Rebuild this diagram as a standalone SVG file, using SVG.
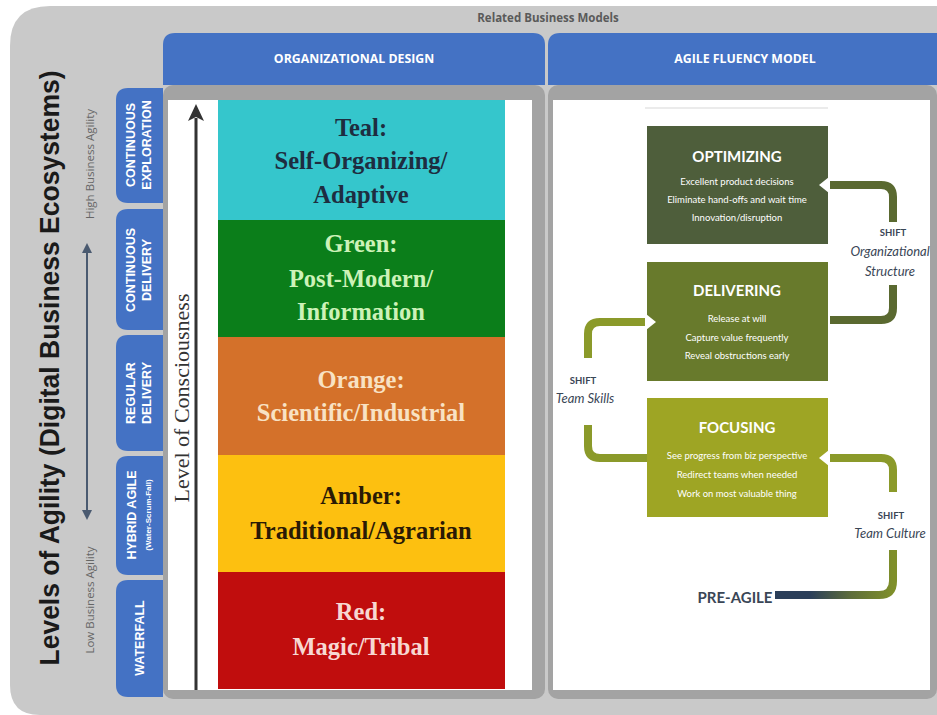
<svg xmlns="http://www.w3.org/2000/svg" width="937" height="715" viewBox="0 0 937 715">
<defs>
<style>
.hdr{font-family:"Open Sans","Liberation Sans",sans-serif;font-weight:bold;font-size:12.3px;fill:#fff;text-anchor:middle}
.tab{fill:#4472c4}
.tabt{font-family:"Liberation Sans",Arial,sans-serif;font-weight:bold;font-size:12.5px;fill:#fff;text-anchor:middle}
.lvl{font-family:"Liberation Serif","Times New Roman",serif;font-weight:bold;font-size:24.5px;text-anchor:middle}
.bt{font-family:"Lato","Open Sans",sans-serif;fill:#fff;text-anchor:middle}
.ttl{font-size:15px;font-weight:bold}
.ln{font-size:9.5px}
.shift{font-family:"Lato","Open Sans",sans-serif;fill:#3a4656;text-anchor:middle}
.con{fill:none;stroke-width:8}
.side{font-family:"Open Sans","Liberation Sans",sans-serif;font-size:11.5px;fill:#666}
</style>
<linearGradient id="gr" gradientUnits="userSpaceOnUse" x1="893" y1="0" x2="775" y2="0">
<stop offset="0" stop-color="#7f8f2a"/>
<stop offset="0.35" stop-color="#5e6e3a"/>
<stop offset="0.7" stop-color="#2b3f5a"/>
<stop offset="1" stop-color="#2b3f5a"/>
</linearGradient>
<marker id="ah" viewBox="0 0 10 10" refX="8" refY="5" markerWidth="5" markerHeight="5" orient="auto-start-reverse">
<path d="M0,0 L10,5 L0,10 z" fill="#4a5a70"/>
</marker>
</defs>
<rect width="937" height="715" fill="#fff"/>
<path d="M50,6 H937 V715 H40 Q10,715 10,685 V46 Q10,6 50,6 Z" fill="#c9c9c9"/>
<text x="548" y="22" font-family="'Open Sans','Liberation Sans',sans-serif" font-weight="bold" font-size="11.5" fill="#5a5a5a" text-anchor="middle">Related Business Models</text>

<g id="title">
<text transform="translate(59,368) rotate(-90)" font-family="'Liberation Sans',Arial,sans-serif" font-weight="bold" font-size="27" fill="#1a1a1a" text-anchor="middle" textLength="595" lengthAdjust="spacingAndGlyphs">Levels of Agility (Digital Business Ecosystems)</text>
<text class="side" transform="translate(94,164) rotate(-90)" text-anchor="middle">High Business Agility</text>
<text class="side" transform="translate(94,600) rotate(-90)" text-anchor="middle">Low Business Agility</text>
<line x1="87" y1="518" x2="87" y2="245" stroke="#4a5a70" stroke-width="2" marker-start="url(#ah)" marker-end="url(#ah)"/>
</g>

<g id="panel-left">
<rect x="163" y="85" width="382" height="614" rx="10" fill="#a3a3a3"/>
<rect x="168" y="100" width="364" height="590" fill="#fff"/>
<path d="M163,85 V45 Q163,33 175,33 H533 Q545,33 545,45 V85 Z" fill="#4472c4"/>
<text class="hdr" x="354" y="63">ORGANIZATIONAL DESIGN</text>
</g>
<g id="panel-right">
<rect x="548" y="85" width="389" height="614" rx="10" fill="#a3a3a3"/>
<rect x="553" y="100" width="377" height="590" fill="#fff"/>
<path d="M548,85 V45 Q548,33 560,33 H937 V85 Z" fill="#4472c4"/>
<text class="hdr" x="745" y="63">AGILE FLUENCY MODEL</text>
<line x1="645" y1="108" x2="828" y2="108" stroke="#e4e4e4" stroke-width="1.5"/>
</g>

<g id="tab-ce">
<path d="M163,88 V203 H128 Q116,203 116,191 V100 Q116,88 128,88 Z" class="tab"/>
<text class="tabt" transform="translate(135,145) rotate(-90)">CONTINUOUS</text>
<text class="tabt" transform="translate(151,145) rotate(-90)">EXPLORATION</text>
</g>
<g id="tab-cd">
<path d="M163,209 V330 H128 Q116,330 116,318 V221 Q116,209 128,209 Z" class="tab"/>
<text class="tabt" transform="translate(135,270) rotate(-90)">CONTINUOUS</text>
<text class="tabt" transform="translate(151,270) rotate(-90)">DELIVERY</text>
</g>
<g id="tab-rd">
<path d="M163,335 V451 H128 Q116,451 116,439 V347 Q116,335 128,335 Z" class="tab"/>
<text class="tabt" transform="translate(135,393) rotate(-90)">REGULAR</text>
<text class="tabt" transform="translate(151,393) rotate(-90)">DELIVERY</text>
</g>
<g id="tab-ha">
<path d="M163,456 V575 H128 Q116,575 116,563 V468 Q116,456 128,456 Z" class="tab"/>
<text class="tabt" transform="translate(136,515) rotate(-90)">HYBRID AGILE</text>
<text transform="translate(151,515) rotate(-90)" font-family="'Liberation Sans',Arial,sans-serif" font-weight="bold" font-size="8" fill="#fff" text-anchor="middle">(Water-Scrum-Fall)</text>
</g>
<g id="tab-wf">
<path d="M163,580 V697 H128 Q116,697 116,685 V592 Q116,580 128,580 Z" class="tab"/>
<text class="tabt" transform="translate(144,638) rotate(-90)">WATERFALL</text>
</g>

<g id="consciousness">
<line x1="196" y1="690" x2="196" y2="118" stroke="#333" stroke-width="3"/>
<polygon points="196,104 188,121 196,117 204,121" fill="#333"/>
<text transform="translate(189,398) rotate(-90)" font-family="'Liberation Serif','Times New Roman',serif" font-size="22" fill="#333" text-anchor="middle">Level of Consciousness</text>
</g>

<g id="teal">
<rect x="218" y="100" width="287" height="120" fill="#35c6cc"/>
<text class="lvl" fill="#1e2d40"><tspan x="361" y="136">Teal:</tspan><tspan x="361" y="169">Self-Organizing/</tspan><tspan x="361" y="203">Adaptive</tspan></text>
</g>
<g id="green">
<rect x="218" y="220" width="287" height="117" fill="#0b7e1a"/>
<text class="lvl" fill="#cdf2b8"><tspan x="361" y="252">Green:</tspan><tspan x="361" y="287">Post-Modern/</tspan><tspan x="361" y="320">Information</tspan></text>
</g>
<g id="orange">
<rect x="218" y="337" width="287" height="118" fill="#d4712a"/>
<text class="lvl" fill="#f8e2c4"><tspan x="361" y="388">Orange:</tspan><tspan x="361" y="421">Scientific/Industrial</tspan></text>
</g>
<g id="amber">
<rect x="218" y="455" width="287" height="117" fill="#fdc010"/>
<text class="lvl" fill="#2a1a05"><tspan x="361" y="504">Amber:</tspan><tspan x="361" y="539">Traditional/Agrarian</tspan></text>
</g>
<g id="red">
<rect x="218" y="572" width="287" height="117" fill="#c00d0d"/>
<text class="lvl" fill="#f7d8d2"><tspan x="361" y="620">Red:</tspan><tspan x="361" y="655">Magic/Tribal</tspan></text>
</g>

<g id="connectors">
<path class="con" stroke="#5a6930" d="M830,320 H881 Q893,320 893,308 V285"/>
<path class="con" stroke="#5a6930" d="M893,222 V197 Q893,185 881,185 H830"/>
<path class="con" stroke="#8b9a2a" d="M645,322 H600 Q588,322 588,334 V358"/>
<path class="con" stroke="#8b9a2a" d="M588,425 V446 Q588,458 600,458 H647"/>
<path class="con" stroke="#8b9a2a" d="M830,458 H881 Q893,458 893,470 V492"/>
<path class="con" stroke="url(#gr)" d="M893,550 V581 Q893,595 879,595 H775"/>
</g>

<g id="optimizing">
<rect x="647" y="126" width="181" height="118" fill="#4e5e3b"/>
<polygon points="829,177 819,185 829,193" fill="#fff"/>
<text class="bt ttl" x="737" y="162">OPTIMIZING</text>
<text class="bt ln" x="737" y="185">Excellent product decisions</text>
<text class="bt ln" x="737" y="203">Eliminate hand-offs and wait time</text>
<text class="bt ln" x="737" y="221">Innovation/disruption</text>
</g>
<g id="delivering">
<rect x="647" y="262" width="181" height="119" fill="#687a2c"/>
<polygon points="646,314 656,322 646,330" fill="#fff"/>
<text class="bt ttl" x="737" y="296">DELIVERING</text>
<text class="bt ln" x="737" y="322">Release at will</text>
<text class="bt ln" x="737" y="341">Capture value frequently</text>
<text class="bt ln" x="737" y="359">Reveal obstructions early</text>
</g>
<g id="focusing">
<rect x="647" y="398" width="181" height="119" fill="#9ea524"/>
<polygon points="829,450 819,458 829,466" fill="#fff"/>
<text class="bt ttl" x="737" y="433">FOCUSING</text>
<text class="bt ln" x="737" y="459">See progress from biz perspective</text>
<text class="bt ln" x="737" y="478">Redirect teams when needed</text>
<text class="bt ln" x="737" y="497">Work on most valuable thing</text>
</g>

<g id="shift-org">
<text class="shift" x="893" y="236" font-size="9.5" font-weight="bold">SHIFT</text>
<text class="shift" x="890" y="256" font-size="13" font-style="italic">Organizational</text>
<text class="shift" x="890" y="276" font-size="13" font-style="italic">Structure</text>
</g>
<g id="shift-skills">
<text class="shift" x="583" y="384" font-size="9.5" font-weight="bold">SHIFT</text>
<text class="shift" x="585" y="403" font-size="13" font-style="italic">Team Skills</text>
</g>
<g id="shift-culture">
<text class="shift" x="891" y="519" font-size="9.5" font-weight="bold">SHIFT</text>
<text class="shift" x="890" y="538" font-size="13" font-style="italic">Team Culture</text>
</g>
<g id="pre-agile">
<text x="735" y="603" font-family="'Lato','Open Sans',sans-serif" font-weight="bold" font-size="15" fill="#3a4656" text-anchor="middle">PRE-AGILE</text>
</g>
</svg>
